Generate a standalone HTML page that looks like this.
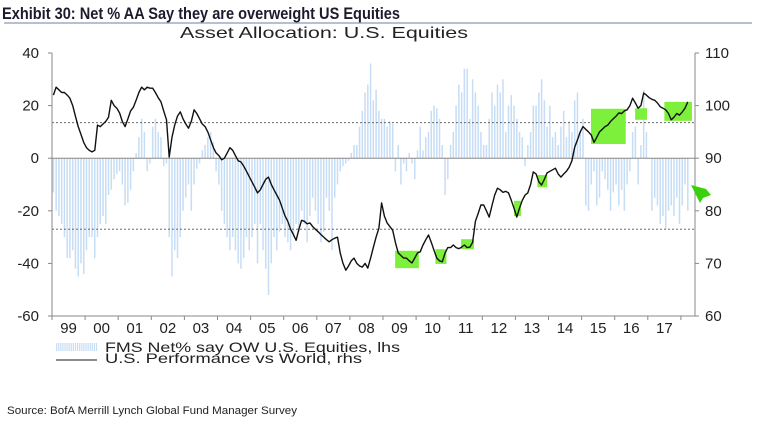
<!DOCTYPE html>
<html><head><meta charset="utf-8"><style>
body{margin:0;background:#fff;width:758px;height:434px;overflow:hidden;font-family:"Liberation Sans",sans-serif}
svg{display:block}
</style></head><body>
<svg id="c" width="758" height="434">
<text x="2" y="19" font-size="17" font-weight="bold" fill="#1b1b2e" textLength="398" lengthAdjust="spacingAndGlyphs">Exhibit 30: Net % AA Say they are overweight US Equities</text>
<line x1="4" y1="23" x2="752" y2="23" stroke="#8a9bb3" stroke-width="1.2"/>
<text x="180" y="38" font-size="16" fill="#222" textLength="288" lengthAdjust="spacingAndGlyphs">Asset Allocation: U.S. Equities</text>
<g id="bars"></g>
<g id="grid"></g>
<g id="boxes"></g>
<path id="line" fill="none" stroke="#111" stroke-width="1.4" stroke-linejoin="round"/>
<g id="axes"></g>
<path d="M691,185 L706,189 L711,195 L703,198 L700,203 Z" fill="#39d10b"/>
<g>
<g id="legsw"></g>
<text x="105" y="352" font-size="14" fill="#222" textLength="295" lengthAdjust="spacingAndGlyphs">FMS Net% say OW U.S. Equities, lhs</text>
<line x1="56" y1="360" x2="97" y2="360" stroke="#666" stroke-width="1.5"/>
<text x="105" y="363" font-size="14" fill="#222" textLength="257" lengthAdjust="spacingAndGlyphs">U.S. Performance vs World, rhs</text>
</g>
<text x="7" y="414" font-size="11" fill="#222" textLength="290" lengthAdjust="spacingAndGlyphs">Source:  BofA Merrill Lynch Global Fund Manager Survey</text>
</svg>
<script>
const years=["99","00","01","02","03","04","05","06","07","08","09","10","11","12","13","14","15","16","17"];
const lhsTicks=[40,20,0,-20,-40,-60];
const rhsTicks=[110,100,90,80,70,60];
const fmsNet=[
-13,-20,-22,-25,-30,-38,-38,-35,-42,-45,-40,-44,
-35,-30,-30,-38,-30,-25,-22,-25,-14,-12,-8,-6,
-5,-10,-18,-17,-12,-5,2,8,15,10,-5,-2,
12,15,10,8,-3,-2,-30,-45,-35,-38,-30,-20,
-15,-10,-20,-10,-4,-2,3,5,8,10,6,-5,
-10,-20,-25,-30,-35,-30,-35,-40,-42,-38,-30,-35,
-30,-25,-40,-25,-35,-42,-52,-40,-30,-35,-28,-25,
-30,-32,-35,-30,-25,-28,-20,-25,-32,-22,-15,-20,
-25,-32,-28,-15,-20,-35,-15,-10,-5,-3,-2,-1,
2,5,5,12,18,25,28,36,22,26,18,15,
15,12,14,13,-5,5,-10,-2,-5,2,-2,-8,
3,12,3,8,10,18,20,19,15,5,-14,-8,
5,10,20,28,25,34,34,15,30,25,20,10,
5,5,15,25,20,28,25,30,10,20,24,20,
15,10,8,-3,5,10,20,20,25,30,22,12,
20,8,10,5,12,18,8,14,10,22,25,10,
15,-18,-20,-10,-5,-18,-15,-5,-8,-12,-20,-13,
-10,-18,-12,-20,-10,-5,10,12,-10,5,26,10,
0,-20,-15,-18,-25,-22,-27,-20,-18,-22,-15,-25,
-18,-10,-20];
const usPerf=[
102,103.5,103,102.5,102.5,102,101.4,100,98,96,94.5,93,
92,91.5,91.2,91.5,96.3,96,96.5,97,97.8,101,100,99.5,
98.6,97,96,97.5,99,99.7,101,102.5,103.5,103,103.5,103.3,
103.3,102.5,101.5,100.7,99,97.3,90.2,94,96.3,98,98.8,97.5,
96.5,95.7,97,99.2,98.5,97.5,96.5,96,95,93.5,92,91,
90.5,89.7,90,91,92,91.5,90.5,89.5,89.3,88.5,87.5,86.5,
85.5,84.5,83.4,84,85,86,86.4,85,84,83,82,80.5,
79,78,76.5,75.5,74.4,76.5,78.2,78,77.5,77.7,77,76.5,
76,75.5,75,74.5,74.1,74.5,74.8,75,72,70,68.7,69.5,
70.5,71,70,69.5,69.3,70,69.1,71,73,75,76.7,81.5,
79,77.7,77,76.3,74,72,71.5,71,71,70.5,70.1,71,
72,72.2,73.5,74.5,75.4,74,72.5,71,70.5,70.3,72,73,
73,73.5,73,72.8,73.1,73.5,73,73.1,74,78,79.5,81.1,
81.1,80,78.8,81,83,84.3,84,83.5,83.7,83.4,82,80.5,
78.8,80.5,82,83,83.4,85,87.4,87,85.5,84.9,86,87.2,
87.5,87.8,88.1,87,86.4,87,87.5,88.3,89.5,92.1,93.5,95,
96,95.5,95,94.4,93,94,95,95.5,96,96.3,97,97.5,
98,98.6,98.5,99,99.2,100,101.4,100.5,99.5,100,102.4,102,
101.5,101.2,101,100.5,99.8,99.5,99.2,98.5,97.3,97.8,98.5,98.2,
98.8,99.5,100.7];
const boxStart=[124.4,139,148.3,167.5,176,195.4,211.4,222];
const boxEnd=[133,143,153,170,179.5,208,215.7,232];
const boxTop=[72.4,72.7,74.6,81.9,86.8,99.4,99.5,100.7];
const boxBot=[69.1,69.9,72.7,79,84.5,92.7,97.3,97.1];
const X0=52,XR=695,YT=53,YB=316,YW=33.1,MW=YW/12;
const n=fmsNet.length;
const xm=m=>X0+m*MW;
const xs=i=>xm(i+0.5);
const yl=v=>YT+(40-v)*(YB-YT)/100;
const yr=v=>YT+(110-v)*(YB-YT)/50;
const NS="http://www.w3.org/2000/svg";
function mk(t,a,p){const e=document.createElementNS(NS,t);for(const k in a)e.setAttribute(k,a[k]);p.appendChild(e);return e;}
const bars=document.getElementById('bars');
fmsNet.forEach((v,i)=>{
 const y0=yl(0),y1=yl(v);
 const r=mk('rect',{x:xs(i)-0.75,y:Math.min(y0,y1),width:1.5,height:Math.abs(y1-y0),fill:'#c6ddf5'},bars);
 
 
});
const grid=document.getElementById('grid');
[13.5,-27].forEach(v=>{const l=mk('line',{x1:X0,x2:XR,y1:yl(v),y2:yl(v),stroke:'#555','stroke-dasharray':'2,2','stroke-width':0.8},grid);
 
 });
const z=mk('line',{x1:X0,x2:XR,y1:yl(0),y2:yl(0),stroke:'#888','stroke-width':1},grid);


const boxes=document.getElementById('boxes');
boxStart.forEach((s,k)=>{const r=mk('rect',{x:xm(s),y:yr(boxTop[k]),width:xm(boxEnd[k])-xm(s),height:yr(boxBot[k])-yr(boxTop[k]),fill:'#7cf03a'},boxes);
 
 });
document.getElementById('line').setAttribute('d',usPerf.map((v,i)=>(i?'L':'M')+xs(i).toFixed(1)+','+yr(v).toFixed(1)).join(''));
const ax=document.getElementById('axes');
mk('line',{x1:X0,x2:X0,y1:YT,y2:YB,stroke:'#888'},ax);
mk('line',{x1:XR,x2:XR,y1:YT,y2:YB,stroke:'#888'},ax);
mk('line',{x1:X0,x2:XR,y1:YB,y2:YB,stroke:'#888'},ax);
lhsTicks.forEach(v=>{mk('line',{x1:X0-4,x2:X0,y1:yl(v),y2:yl(v),stroke:'#888'},ax);
 const t=mk('text',{x:39,y:yl(v)+5,'font-size':15,fill:'#222','text-anchor':'end'},ax);t.textContent=v;
 
 });
rhsTicks.forEach(v=>{mk('line',{x1:XR,x2:XR+4,y1:yr(v),y2:yr(v),stroke:'#888'},ax);
 const t=mk('text',{x:705,y:yr(v)+5,'font-size':15,fill:'#222'},ax);t.textContent=v;
 
 });
years.forEach((y,i)=>{mk('line',{x1:X0+i*YW,x2:X0+i*YW,y1:YB,y2:YB+4,stroke:'#888'},ax);
 const t=mk('text',{x:X0+(i+0.5)*YW,y:333,'font-size':15,fill:'#222','text-anchor':'middle'},ax);t.textContent=y;
 
 });
mk('line',{x1:X0+19*YW,x2:X0+19*YW,y1:YB,y2:YB+4,stroke:'#888'},ax);
const sw=document.getElementById('legsw');
for(let i=0;i<20;i++){mk('rect',{x:56+i*2.1,y:343,width:1.2,height:8,fill:'#c6ddf5'},sw);}
</script>
</body></html>
